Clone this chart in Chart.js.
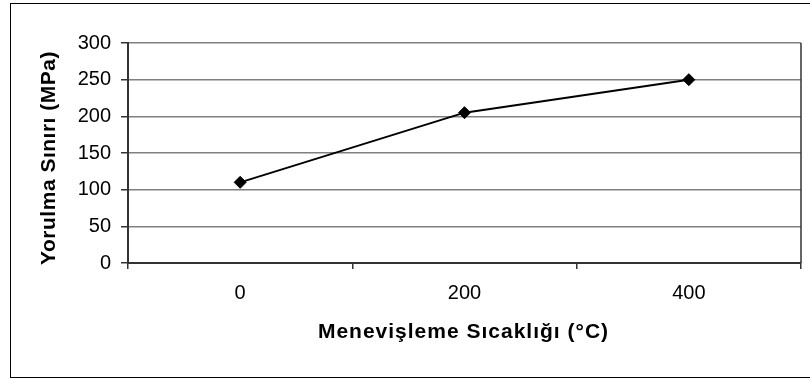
<!DOCTYPE html>
<html>
<head>
<meta charset="utf-8">
<script src="https://cdn.jsdelivr.net/npm/chart.js@4/dist/chart.umd.min.js"></script>
<style>
  html, body { margin: 0; padding: 0; background: #fff; }
  #c { display: block; }
</style>
</head>
<body>
<canvas id="c" width="810" height="379"></canvas>
<script>
// Tempering temperature (°C) categories and fatigue limit (MPa)
const temperatures = ['0', '200', '400'];
const fatigueLimit = [110, 205, 250];

// Value axis range
const yMin = 0;
const yMax = 300;
const yStep = 50;

const xTitleText = 'Menevişleme Sıcaklığı (°C)';
const yTitleText = 'Yorulma Sınırı (MPa)';

const FONT = '"Liberation Sans", Arial, sans-serif';
const AXIS_COLOR = '#333333';
const GRID_COLOR = '#808080';

// Draw an axis title with widened letter tracking and an optional nudge
function trackTitle(scale, spacing, dx, dy) {
  if (scale._tracked) return;
  scale._tracked = true;
  const original = scale.drawTitle;
  scale.drawTitle = function () {
    const ctx = this.ctx;
    ctx.save();
    ctx.letterSpacing = spacing;
    ctx.translate(dx, dy);
    original.call(this);
    ctx.restore();
  };
}

// Outer chart frame and the right edge of the plot area
const framePlugin = {
  id: 'frame',
  afterDraw(chart) {
    const { ctx, chartArea } = chart;
    ctx.save();
    ctx.strokeStyle = '#000';
    ctx.lineWidth = 1;
    ctx.strokeRect(10.5, 3.5, 820, 374);
    ctx.strokeStyle = AXIS_COLOR;
    ctx.lineWidth = 1.5;
    ctx.beginPath();
    ctx.moveTo(chartArea.right, chartArea.top);
    ctx.lineTo(chartArea.right, chartArea.bottom);
    ctx.stroke();
    ctx.restore();
  }
};

new Chart(document.getElementById('c'), {
  type: 'line',
  data: {
    labels: temperatures,
    datasets: [{
      data: fatigueLimit,
      borderColor: '#000',
      borderWidth: 2,
      backgroundColor: '#000',
      pointStyle: 'rectRot',
      pointRadius: 6,
      pointBorderWidth: 1,
      pointBorderColor: '#000',
      pointBackgroundColor: '#000',
      tension: 0,
      fill: false
    }]
  },
  options: {
    responsive: false,
    animation: false,
    devicePixelRatio: 1,
    layout: { padding: { left: 0, top: 43, right: 9, bottom: 0 } },
    plugins: {
      legend: { display: false },
      tooltip: { enabled: false }
    },
    scales: {
      x: {
        type: 'category',
        offset: true,
        afterFit(scale) { scale.height = 116; trackTitle(scale, '1px', -1, 0); },
        grid: {
          offset: true,
          drawOnChartArea: false,
          drawTicks: true,
          tickLength: 6,
          color: AXIS_COLOR,
          lineWidth: 1.5
        },
        border: { display: true, color: AXIS_COLOR, width: 2 },
        ticks: {
          color: '#000',
          padding: 12,
          maxRotation: 0,
          font: { family: FONT, size: 20 }
        },
        title: {
          display: true,
          text: xTitleText,
          color: '#000',
          padding: { top: 0, bottom: 34 },
          font: { family: FONT, size: 21, weight: 'bold' }
        }
      },
      y: {
        type: 'linear',
        min: yMin,
        max: yMax,
        afterFit(scale) { scale.width = 128; trackTitle(scale, '0.5px', 0, 5); },
        grid: {
          color: GRID_COLOR,
          lineWidth: 1.5,
          drawTicks: true,
          tickLength: 7,
          tickColor: AXIS_COLOR
        },
        border: { display: true, color: AXIS_COLOR, width: 2 },
        ticks: {
          stepSize: yStep,
          color: '#000',
          padding: 10,
          font: { family: FONT, size: 20 }
        },
        title: {
          display: true,
          text: yTitleText,
          color: '#000',
          padding: { top: 37, bottom: 0 },
          font: { family: FONT, size: 21, weight: 'bold' }
        }
      }
    }
  },
  plugins: [framePlugin]
});
</script>
</body>
</html>
